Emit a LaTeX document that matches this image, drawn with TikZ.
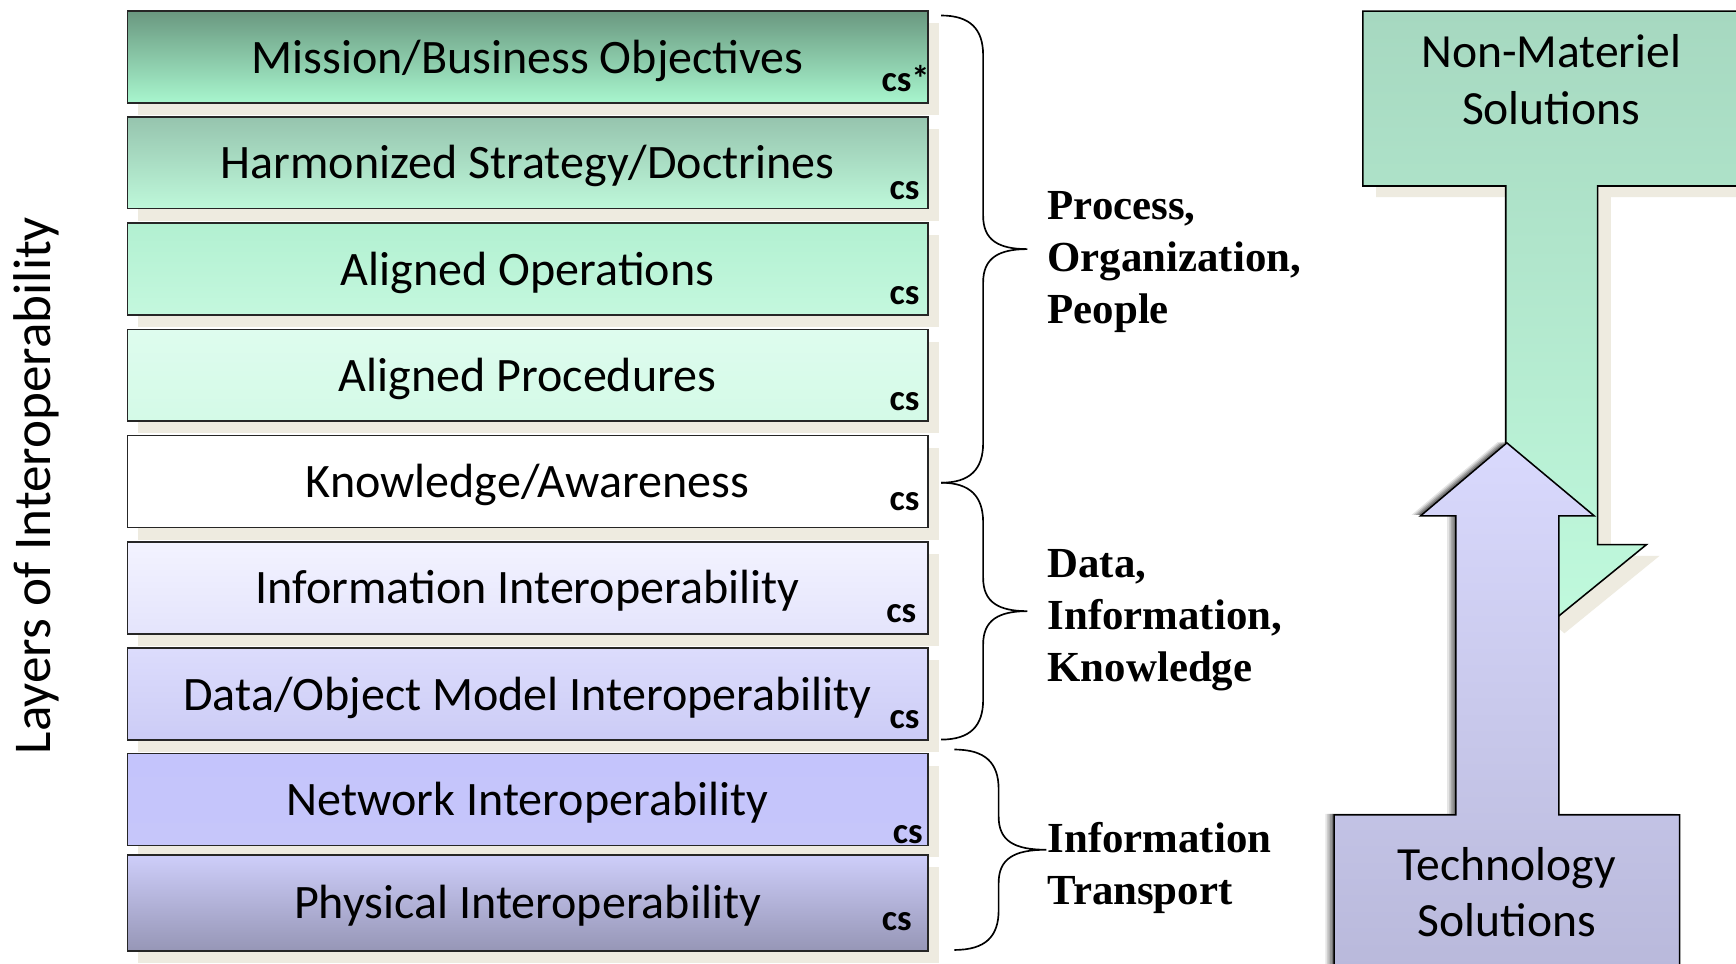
\documentclass[tikz,border=0pt]{standalone}
\usepackage{fontspec}
\setmainfont{Carlito}
\newfontfamily\bracefont{Liberation Serif}
\usetikzlibrary{shadows}
\definecolor{shadowbeige}{HTML}{EEEBE0}
\begin{document}
\begin{tikzpicture}[x=1pt,y=-1pt,
  layer/.style={draw=black!85, line width=1.4pt, minimum width=723pt, minimum height=83pt,
    font=\fontsize{43.4}{50}\selectfont, inner sep=0pt, text height=31pt, text depth=2pt,
    drop shadow={shadow xshift=10pt, shadow yshift=-11pt, fill=shadowbeige, opacity=1}},
  cslab/.style={font=\bfseries\fontsize{33}{36}\selectfont, anchor=base, inner sep=0pt},
  bracelab/.style={font=\bracefont\bfseries\fontsize{38.7}{47}\selectfont, align=left, anchor=west, inner sep=0pt},
  bigtext/.style={font=\fontsize{43}{51}\selectfont, align=center, inner sep=0pt},
  brace/.style={draw=black, line width=1.5pt}
]
\clip (0,0) rectangle (1568,870);
\fill[white] (0,0) rectangle (1568,870);

% layers
\node[layer, top color={rgb,255:red,106;green,152;blue,128}, bottom color={rgb,255:red,168;green,246;blue,206}] (b1) at (476.5,51.5) {Mission/Business Objectives};
\node[layer, top color={rgb,255:red,150;green,196;blue,174}, bottom color={rgb,255:red,190;green,248;blue,218}] (b2) at (476.5,147) {Harmonized Strategy/Doctrines};
\node[layer, top color={rgb,255:red,178;green,240;blue,209}, bottom color={rgb,255:red,196;green,248;blue,222}] (b3) at (476.5,243) {Aligned Operations};
\node[layer, top color={rgb,255:red,222;green,252;blue,238}, bottom color={rgb,255:red,212;green,250;blue,231}] (b4) at (476.5,339) {Aligned Procedures};
\node[layer, fill=white] (b5) at (476.5,435) {Knowledge/Awareness};
\node[layer, top color={rgb,255:red,243;green,243;blue,255}, bottom color={rgb,255:red,228;green,228;blue,252}] (b6) at (476.5,531) {Information Interoperability};
\node[layer, top color={rgb,255:red,220;green,220;blue,252}, bottom color={rgb,255:red,204;green,204;blue,246}] (b7) at (476.5,627) {Data/Object Model Interoperability};
\node[layer, top color={rgb,255:red,196;green,196;blue,252}, bottom color={rgb,255:red,198;green,198;blue,250}] (b8) at (476.5,722) {Network Interoperability};
\node[layer, minimum height=87pt, top color={rgb,255:red,206;green,206;blue,250}, bottom color={rgb,255:red,150;green,150;blue,182}] (b9) at (476.5,815.5) {Physical Interoperability};

% cs labels
\node[cslab] (c1) at (818,83) {cs*};
\node[cslab] (c2) at (817,180) {cs};
\node[cslab] (c3) at (817,275) {cs};
\node[cslab] (c4) at (817,371) {cs};
\node[cslab] (c5) at (817,461) {cs};
\node[cslab] (c6) at (814,562) {cs};
\node[cslab] (c7) at (817,658) {cs};
\node[cslab] (c8) at (820,762) {cs};
\node[cslab] (c9) at (810,840) {cs};

% vertical label
\node[bigtext, font=\fontsize{48}{51}\selectfont, rotate=90] (lay) at (33,438.5) {Layers of Interoperability};

% braces
\newcommand{\bracepath}[5]{%
  \draw[brace] (#1,#2) .. controls ({#4-12},#2) and (#4,{#2+12}) .. (#4,{#2+36})
   -- (#4,{(#2+#3)/2-30}) .. controls (#4,{(#2+#3)/2-8}) and ({#4+14},{(#2+#3)/2}) .. (#5,{(#2+#3)/2})
   .. controls ({#4+14},{(#2+#3)/2}) and (#4,{(#2+#3)/2+8}) .. (#4,{(#2+#3)/2+30})
   -- (#4,{#3-36}) .. controls (#4,{#3-12}) and ({#4-12},#3) .. (#1,#3);}
\bracepath{850}{14}{436}{888}{928}
\bracepath{850}{436}{668}{888}{928}
\bracepath{862}{677}{858}{902}{945}

\node[bracelab] (p1) at (946,237) {Process,\\Organization,\\People};
\node[bracelab] (p2) at (946,560) {Data,\\Information,\\Knowledge};
\node[bracelab] (p3) at (946,784) {Information\\Transport};

% green arrow (down)
\fill[shadowbeige] (1243,20) -- (1592,20) -- (1592,178) -- (1455,178) -- (1455,502) -- (1499,502) -- (1413,572) -- (1330,502) -- (1372,502) -- (1372,178) -- (1243,178) -- cycle;
\draw[line width=1.4pt, draw=black, top color={rgb,255:red,166;green,216;blue,192}, bottom color={rgb,255:red,192;green,250;blue,221}]
  (1231,10) -- (1590,10) -- (1590,168) -- (1443,168) -- (1443,492) -- (1487,492) -- (1401,562) -- (1318,492) -- (1360,492) -- (1360,168) -- (1231,168) -- cycle;
\node[bigtext] (nm) at (1401,72) {Non-Materiel\\Solutions};

% purple arrow (up)
\foreach \d/\o in {8/0.10,6/0.15,4/0.2,2/0.25}{
  \fill[black, opacity=\o, shift={(-\d,-1)}] (1205,736) -- (1315,736) -- (1315,466) -- (1283,466) -- (1361,400) -- (1440,466) -- (1408,466) -- (1408,736) -- (1517,736) -- (1517,890) -- (1205,890) -- cycle;
}
\draw[line width=1.4pt, draw=black, top color={rgb,255:red,217;green,217;blue,253}, bottom color={rgb,255:red,184;green,184;blue,218}]
  (1205,736) -- (1315,736) -- (1315,466) -- (1283,466) -- (1361,400) -- (1440,466) -- (1408,466) -- (1408,736) -- (1517,736) -- (1517,890) -- (1205,890) -- cycle;
\node[bigtext] (ts) at (1361,806) {Technology\\Solutions};
\end{tikzpicture}
\end{document}
